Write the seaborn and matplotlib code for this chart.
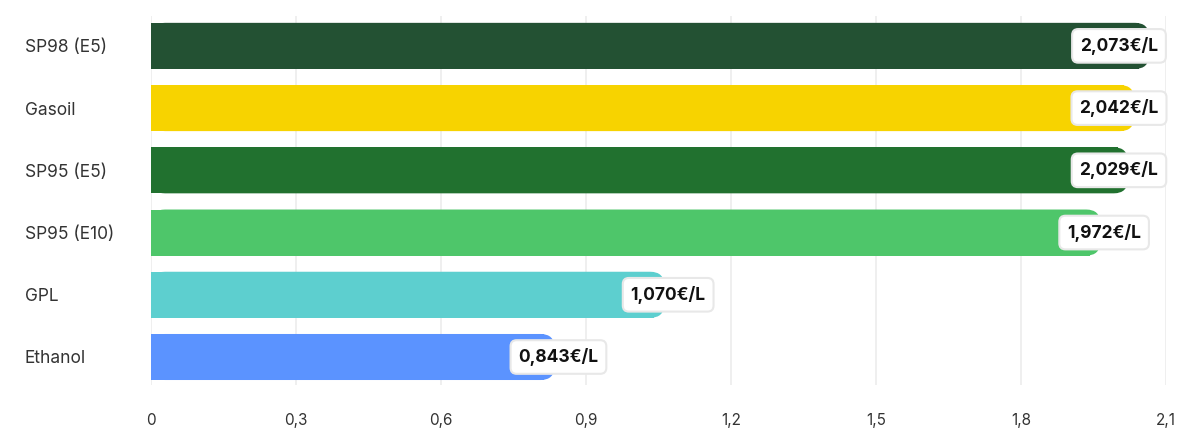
import numpy as np
import pandas as pd
import matplotlib
matplotlib.use('Agg')
import matplotlib.pyplot as plt
import seaborn as sns
from matplotlib.patches import FancyBboxPatch

# Data
fuels = ['SP98 (E5)', 'Gasoil', 'SP95 (E5)', 'SP95 (E10)', 'GPL', 'Ethanol']
prices = [2.073, 2.042, 2.029, 1.972, 1.070, 0.843]
colors = ['#235133', '#F7D300', '#21712F', '#4EC66A', '#5DCFCF', '#5B93FF']
x_ticks = [0, 0.3, 0.6, 0.9, 1.2, 1.5, 1.8, 2.1]

df = pd.DataFrame({'fuel': fuels, 'price': prices})

sns.set_style('white')
plt.rcParams['font.family'] = ['Inter', 'DejaVu Sans']

fig = plt.figure(figsize=(12.03, 4.48), dpi=100)
ax = fig.add_axes([151 / 1203, 1 - 385 / 448, (1166 - 151) / 1203, (385 - 16) / 448])

sns.barplot(data=df, x='price', y='fuel', hue='fuel', palette=colors,
            legend=False, width=0.74, saturation=1, ax=ax, zorder=2)

ax.set_xlim(0, 2.1)
ax.set_ylim(5.45, -0.48)

# rounded right ends
px_per_x = 1015 / 2.1
xr = 14 / px_per_x
yr = 14 / 62.2
for p in list(ax.patches):
    x0, y0 = p.get_x(), p.get_y()
    w, h = p.get_width(), p.get_height()
    fc = p.get_facecolor()
    p.set_width(w - xr)
    p.set_edgecolor('none')
    rb = FancyBboxPatch((x0, y0), w - 0.008, h,
                        boxstyle=f'round,pad=0,rounding_size={xr}',
                        mutation_aspect=yr / xr,
                        facecolor=fc, edgecolor='none', zorder=2)
    ax.add_patch(rb)

# value labels
half = 47 / px_per_x
for i, v in enumerate(prices):
    xpos = min(v, 2.1 - half)
    txt = f'{v:.3f}'.replace('.', ',') + '€/L'
    ax.text(xpos, i, txt, ha='center', va='center',
            fontsize=12.5, fontweight='bold', color='#111111', zorder=4,
            bbox=dict(boxstyle='round,pad=0.45,rounding_size=0.35',
                      facecolor='white', edgecolor='#e8e8e8', linewidth=1.5))

ax.set_xticks(x_ticks)
ax.set_xticklabels([f'{t:g}'.replace('.', ',') for t in x_ticks])
ax.grid(axis='x', color='#ececec', linewidth=1.2, zorder=0)
ax.grid(axis='y', visible=False)
for s in ax.spines.values():
    s.set_visible(False)
ax.set_xlabel('')
ax.set_ylabel('')
ax.tick_params(axis='x', length=0, pad=20, labelsize=11, labelcolor='#333333')
ax.tick_params(axis='y', length=0, pad=(151 - 25) * 72 / 100, labelsize=12.5,
               labelcolor='#333333')
for lab in ax.get_yticklabels():
    lab.set_horizontalalignment('left')

fig.savefig('out.png', dpi=100, facecolor='white')
